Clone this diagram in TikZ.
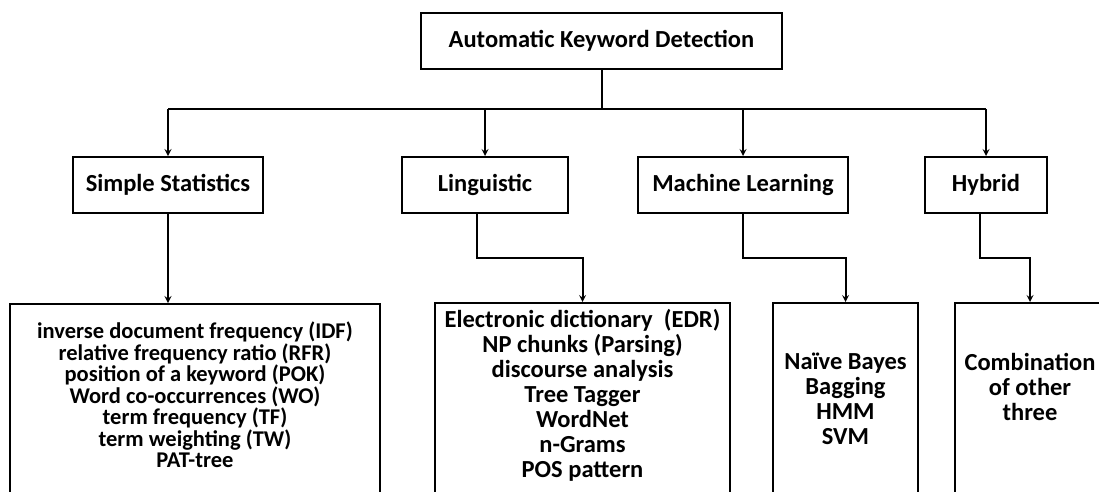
\documentclass[tikz,border=0pt]{standalone}
\usepackage{fontspec}
\setmainfont{Carlito}
\usetikzlibrary{arrows}
\usetikzlibrary{positioning}
\tikzstyle{catblock} = [rectangle, draw=black, line width=2pt, minimum height=56pt,
  text centered, font=\bfseries\fontsize{24.5}{28}\selectfont]
\tikzstyle{listblock} = [rectangle, draw=black, line width=2pt, anchor=north, minimum height=200pt]
\tikzstyle{listtext} = [anchor=north, inner sep=0pt, align=center,
  font=\bfseries\fontsize{24.5}{25}\selectfont]
\tikzstyle{arrow} = [line width=2pt,->,>=stealth]
\tikzstyle{wire} = [line width=2pt]

\begin{document}
\begin{tikzpicture}[x=1pt, y=-1pt] % pixel grid, y going down
  \useasboundingbox (0,0) rectangle (1099,491);
  \clip (0,0) rectangle (1099,491);
  \node (akd) [catblock, minimum width=361pt] at (601.5,41) {Automatic Keyword Detection};
  \node (stat) [catblock, minimum width=190pt] at (168,185) {Simple Statistics};
  \node (ling) [catblock, minimum width=166pt] at (485,185) {Linguistic};
  \node (ml) [catblock, minimum width=210pt] at (743,185) {Machine Learning};
  \node (hyb) [catblock, minimum width=122pt] at (986,185) {Hybrid};
  % lists under each category (cut off at the bottom)
  \node (statbox) [listblock, minimum width=370pt] at (195,303) {};
  \node (lingbox) [listblock, minimum width=295pt] at (582.5,302) {};
  \node (mlbox) [listblock, minimum width=145pt] at (845.5,302) {};
  \node (hybbox) [listblock, minimum width=150pt] at (1030,302) {};
  \node (statitems) [listtext, font=\bfseries\fontsize{22.5}{21.5}\selectfont] at ([yshift=-19pt]statbox.north)
    {inverse document frequency (IDF)\\ relative frequency ratio (RFR)\\ position of a keyword (POK)\\
     Word co-occurrences (WO)\\ term frequency (TF)\\ term weighting (TW)\\ PAT-tree};
  \node (lingitems) [listtext] at ([yshift=-7pt]lingbox.north)
    {Electronic dictionary\ \ (EDR)\\ NP chunks (Parsing)\\ discourse analysis\\ Tree Tagger\\
     WordNet\\ n-Grams\\ POS pattern};
  \node (mlitems) [listtext] at ([yshift=-51pt]mlbox.north) {Naïve Bayes\\ Bagging\\ HMM\\ SVM};
  \node (hybitems) [listtext] at ([yshift=-51pt]hybbox.north) {Combination\\ of other\\ three};
  % connectors
  \draw [wire] (akd.south) -- ++(0,39) coordinate (bus);
  \draw [wire] (stat.north |- bus) -- (hyb.north |- bus);
  \foreach \cat in {stat,ling,ml,hyb}
    \draw [arrow] (\cat.north |- bus) -- (\cat.north);
  \draw [arrow] (stat.south) -- (statbox.north -| stat.south);
  \draw [arrow] ([xshift=-8pt]ling.south) -- ++(0,44) -| (lingbox.north);
  \draw [arrow] (ml.south) -- ++(0,44) -| (mlbox.north);
  \draw [arrow] ([xshift=-6pt]hyb.south) -- ++(0,44) -| (hybbox.north);
\end{tikzpicture}
\end{document}
